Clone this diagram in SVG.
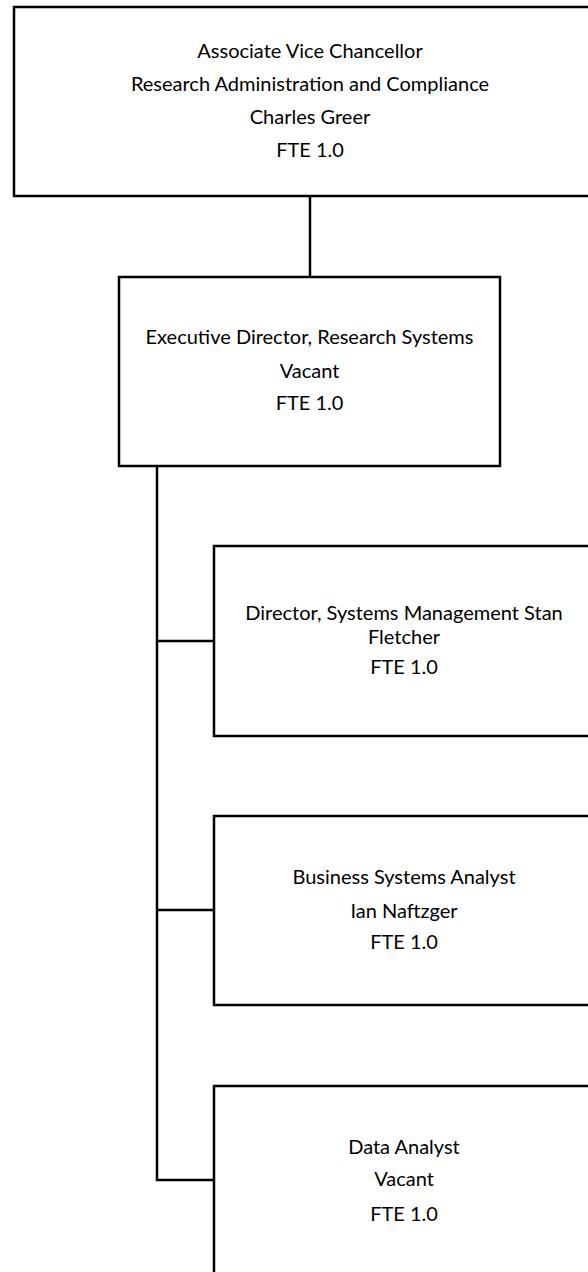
<svg xmlns="http://www.w3.org/2000/svg" width="588" height="1272" viewBox="0 0 588 1272">
<style>
.box{fill:#fff;stroke:#000;stroke-width:2.5}
.ln{fill:none;stroke:#000;stroke-width:2.5}
text{font-family:Lato,"Open Sans",sans-serif;font-size:20px;fill:#000;text-anchor:middle}
</style>
<rect width="588" height="1272" fill="#fff"/>
<g id="connectors">
<path class="ln" d="M310 196V277"/>
<path class="ln" d="M157 466V1180H214"/>
<path class="ln" d="M157 641H214"/>
<path class="ln" d="M157 910H214"/>
</g>
<g id="avc">
<rect class="box" x="14" y="7" width="592" height="189"/>
<text x="310" y="58">Associate Vice Chancellor</text>
<text x="310" y="91">Research Administration and Compliance</text>
<text x="310" y="124">Charles Greer</text>
<text x="310" y="157">FTE 1.0</text>
</g>
<g id="exec">
<rect class="box" x="119" y="277" width="381" height="189"/>
<text x="309.5" y="344">Executive Director, Research Systems</text>
<text x="309.5" y="378">Vacant</text>
<text x="309.5" y="410">FTE 1.0</text>
</g>
<g id="director">
<rect class="box" x="214" y="546" width="380" height="190"/>
<text x="404" y="620">Director, Systems Management Stan</text>
<text x="404" y="644">Fletcher</text>
<text x="404" y="674">FTE 1.0</text>
</g>
<g id="bsa">
<rect class="box" x="214" y="816" width="380" height="189"/>
<text x="404" y="884">Business Systems Analyst</text>
<text x="404" y="918">Ian Naftzger</text>
<text x="404" y="949">FTE 1.0</text>
</g>
<g id="data">
<rect class="box" x="214" y="1086" width="380" height="200"/>
<text x="404" y="1154">Data Analyst</text>
<text x="404" y="1186">Vacant</text>
<text x="404" y="1221">FTE 1.0</text>
</g>
</svg>
